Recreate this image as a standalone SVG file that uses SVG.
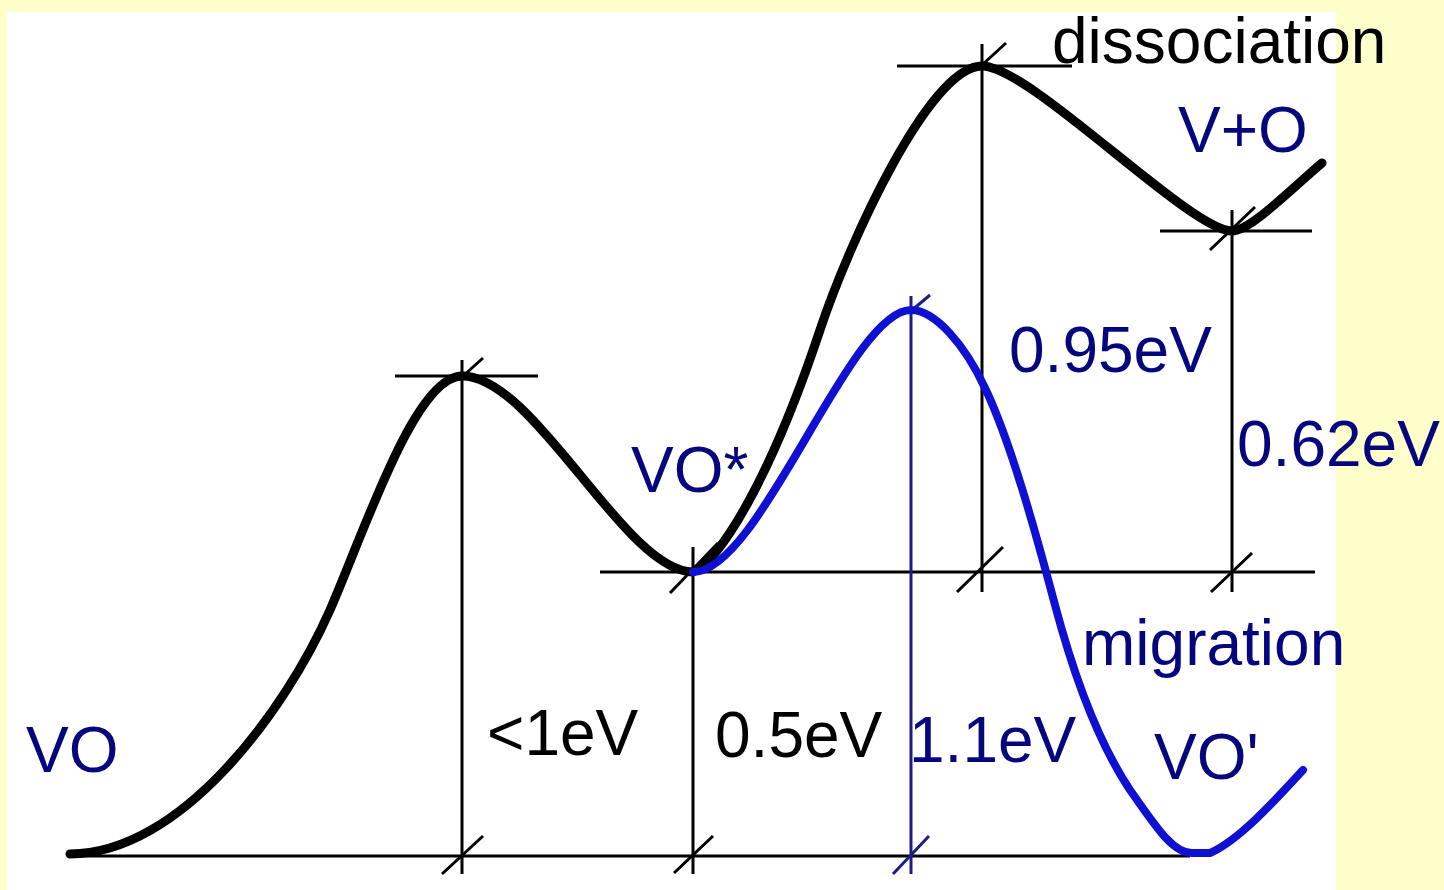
<svg xmlns="http://www.w3.org/2000/svg" width="1444" height="890" viewBox="0 0 1444 890">
<style>
.thin{stroke:#000;stroke-width:3;fill:none}
.thinb{stroke:#1c1c84;stroke-width:3;fill:none}
.curve{stroke:#000;stroke-width:9;fill:none;stroke-linecap:round;stroke-linejoin:round}
.curveb{stroke:#1010d2;stroke-width:8;fill:none;stroke-linecap:round;stroke-linejoin:round}
text{font-family:"Liberation Sans",Arial,sans-serif;font-size:64px}
.k{fill:#000}
.n{fill:#05057e}
</style>
<rect x="0" y="0" width="1444" height="890" fill="#ffffcc"/>
<rect x="7" y="12" width="1329" height="878" fill="#ffffff"/>
<g id="axes">
<line class="thin" x1="70" y1="856" x2="1190" y2="856"/>
<line class="thin" x1="600" y1="572" x2="1315" y2="572"/>
<line class="thin" x1="395" y1="376" x2="538" y2="376"/>
<line class="thin" x1="897" y1="66" x2="1072" y2="66"/>
<line class="thin" x1="1160" y1="231" x2="1312" y2="231"/>
<line class="thin" x1="462" y1="360" x2="462" y2="874"/>
<line class="thin" x1="693" y1="547" x2="693" y2="874"/>
<line class="thin" x1="982" y1="44" x2="982" y2="592"/>
<line class="thin" x1="1232" y1="210" x2="1232" y2="592"/>
<line class="thinb" x1="911" y1="296" x2="911" y2="874"/>
<line class="thin" x1="442" y1="874" x2="483" y2="836"/>
<line class="thin" x1="674" y1="873" x2="713" y2="836"/>
<line class="thinb" x1="893" y1="874" x2="929" y2="836"/>
<line class="thin" x1="670" y1="593" x2="718" y2="543"/>
<line class="thin" x1="957" y1="592" x2="1003" y2="547"/>
<line class="thin" x1="1211" y1="592" x2="1252" y2="553"/>
<line class="thin" x1="462" y1="377" x2="483" y2="358"/>
<line class="thin" x1="982" y1="65" x2="1006" y2="43"/>
<line class="thinb" x1="911" y1="311" x2="930" y2="295"/>
<line class="thin" x1="1210" y1="250" x2="1255" y2="207"/>
</g>
<g id="connectors">
<path id="dissociation-path" class="curve" d="M70,854 C180,854 285,712 330,610 C365,530 415,376 462,376 C535,376 625,572 693,572 C720,560 770,480 820,330 C850,240 930,66 982,66 C1030,66 1190,231 1232,231 C1250,231 1290,190 1322,163"/>
<path id="migration-path" class="curveb" d="M693,572 C760,572 850,310 911,310 C935,310 965,345 985,388 C1010,440 1035,530 1055,605 C1075,680 1100,745 1130,790 C1155,825 1172,853 1192,853 L1210,853 C1240,840 1280,795 1303,770"/>
</g>
<g id="labels">
<text class="k" x="1052" y="63">dissociation</text>
<text class="n" x="1178" y="152">V+O</text>
<text class="n" x="1009" y="372">0.95eV</text>
<text class="n" x="1237" y="466">0.62eV</text>
<text class="n" x="631" y="492">VO*</text>
<text class="n" x="26" y="772">VO</text>
<text class="k" x="487" y="755">&lt;1eV</text>
<text class="k" x="715" y="757">0.5eV</text>
<text class="n" x="909" y="762">1.1eV</text>
<text class="n" x="1082" y="665">migration</text>
<text class="n" x="1154" y="779">VO'</text>
</g>
</svg>
